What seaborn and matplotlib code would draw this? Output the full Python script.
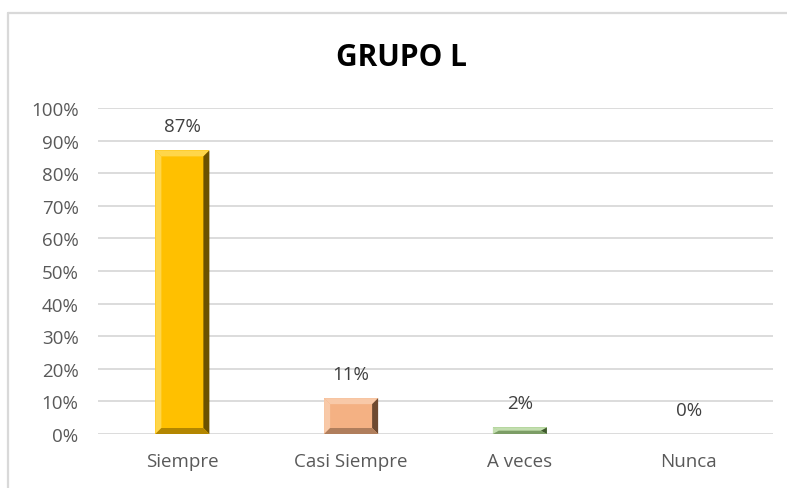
import matplotlib
matplotlib.use("Agg")
import matplotlib.pyplot as plt
from matplotlib.patches import Polygon
from matplotlib.lines import Line2D
from matplotlib.ticker import FuncFormatter, MultipleLocator
import seaborn as sns

# Data
categories = ["Siempre", "Casi Siempre", "A veces", "Nunca"]
values = [0.87, 0.11, 0.02, 0.00]
title = "GRUPO L"

# Face colours and bevel shades per bar: (face, light, dark, bottom)
face_colors = ["#FFC000", "#F4B183", "#A9D18E", "#A5A5A5"]
light_colors = ["#FFD64A", "#F8C9A8", "#C3DEB0", "#C9C9C9"]
dark_colors = ["#6B5100", "#6E4A31", "#3F5A2E", "#555555"]
bottom_colors = ["#B38600", "#B07E5C", "#7C9D66", "#7F7F7F"]

sns.set_style("white")
plt.rcParams["font.family"] = ["Open Sans", "DejaVu Sans"]

W, H = 787, 489
fig = plt.figure(figsize=(W / 100, H / 100), dpi=100)
ax = fig.add_axes([98 / W, 1 - 435 / H, (773 - 98) / W, (435 - 109) / H])

sns.barplot(x=categories, y=values, hue=categories, palette=face_colors,
            legend=False, width=0.32, ax=ax, linewidth=0, saturation=1)

ax.set_ylim(0, 1.0)
ax.set_xlim(-0.5, len(categories) - 0.5)
ax.yaxis.set_major_locator(MultipleLocator(0.1))
ax.yaxis.set_major_formatter(FuncFormatter(lambda v, _: f"{v * 100:.0f}%"))
ax.grid(axis="y", color="#D9D9D9", linewidth=1.3)
ax.set_axisbelow(True)
sns.despine(ax=ax, left=True, bottom=True, top=True, right=True)
ax.set_xlabel("")
ax.set_ylabel("")
ax.tick_params(axis="both", length=0, labelcolor="#595959", labelsize=13.5)
ax.tick_params(axis="y", pad=14)
ax.tick_params(axis="x", pad=13)

fig.canvas.draw()
to_data = ax.transData.inverted()


def bevel(patch, i, b=6.0):
    """Overlay bevel facets on a bar, bevel size b in pixels."""
    x0, y0 = patch.get_x(), patch.get_y()
    x1, y1 = x0 + patch.get_width(), y0 + patch.get_height()
    (px0, py0), (px1, py1) = ax.transData.transform([(x0, y0), (x1, y1)])
    if py1 - py0 < 0.5:
        return
    bx = min(b, (px1 - px0) / 2)
    by = min(b, (py1 - py0) / 2)
    ix0, ix1 = px0 + bx, px1 - bx
    iy0, iy1 = py0 + by, py1 - by
    facets = [
        ([(px0, py1), (px1, py1), (ix1, iy1), (ix0, iy1)], light_colors[i]),
        ([(px0, py0), (px0, py1), (ix0, iy1), (ix0, iy0)], light_colors[i]),
        ([(px1, py0), (px1, py1), (ix1, iy1), (ix1, iy0)], dark_colors[i]),
        ([(px0, py0), (px1, py0), (ix1, iy0), (ix0, iy0)], bottom_colors[i]),
    ]
    for pts, col in facets:
        ax.add_patch(Polygon(to_data.transform(pts), closed=True,
                             facecolor=col, edgecolor="none",
                             transform=ax.transData, zorder=patch.get_zorder() + 0.1))


for i, p in enumerate(ax.patches[:len(values)]):
    bevel(p, i)

# Value labels above each bar
for i, v in enumerate(values):
    ax.annotate(f"{v * 100:.0f}%", xy=(i, v), xytext=(0, 17.5),
                textcoords="offset points", ha="center", va="center",
                fontsize=13.5, color="#404040")

fig.text((337 + 467) / 2 / W, 1 - 58 / H, title, ha="center", va="center",
         fontsize=21.5, fontweight="bold", color="#000000")

# Chart-area border (top and left edges)
fig.add_artist(Line2D([8 / W, 1.0], [1 - 14 / H, 1 - 14 / H],
                      transform=fig.transFigure, color="#D9D9D9", linewidth=1.6))
fig.add_artist(Line2D([8 / W, 8 / W], [0.0, 1 - 14 / H],
                      transform=fig.transFigure, color="#D9D9D9", linewidth=1.6))

fig.savefig("out.png", dpi=100, facecolor="white")
